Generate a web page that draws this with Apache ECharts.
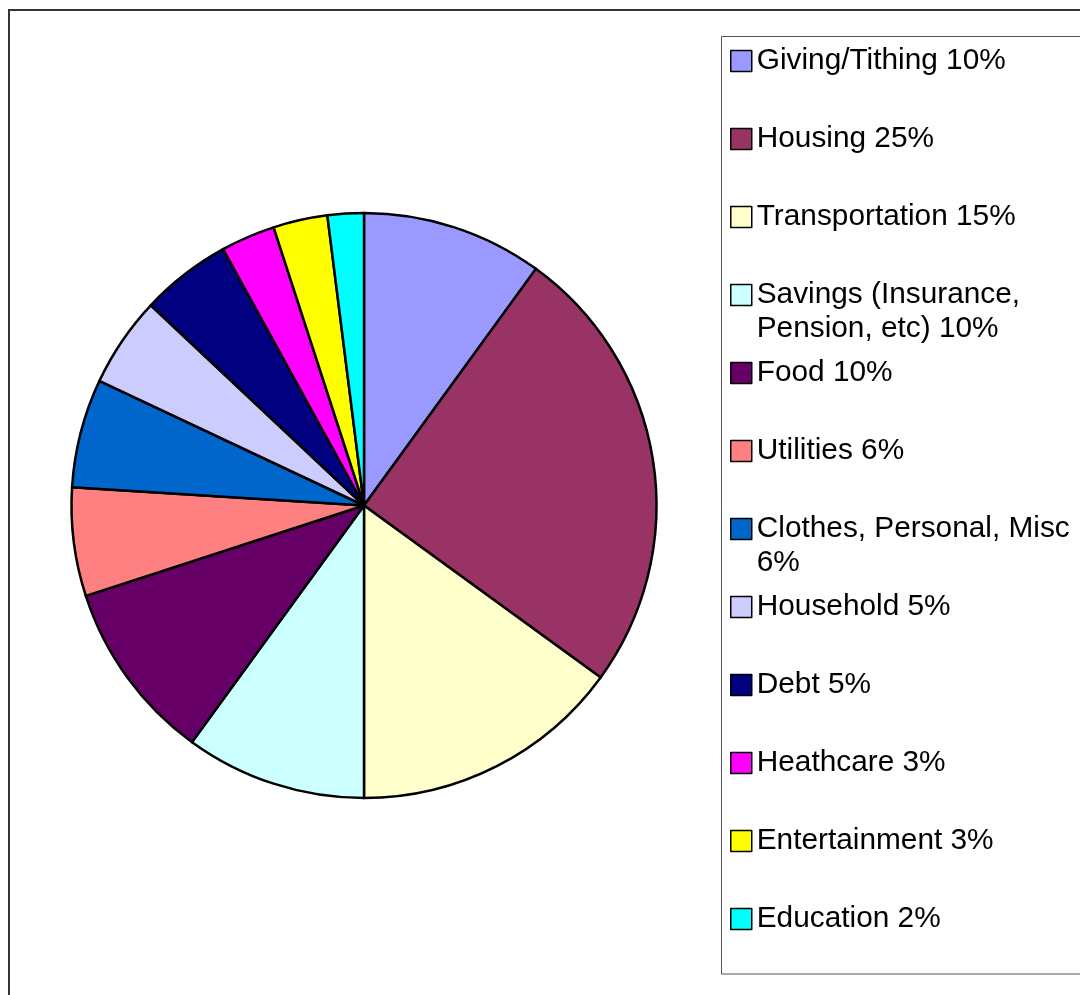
<!DOCTYPE html>
<html>
<head>
<meta charset="utf-8">
<script src="https://cdn.jsdelivr.net/npm/echarts@6/dist/echarts.min.js"></script>
<style>
html,body{margin:0;padding:0;background:#fff;}
#chart{width:1080px;height:995px;}
</style>
</head>
<body>
<div id="chart"></div>
<script>
const categories = ['Giving/Tithing', 'Housing', 'Transportation', 'Savings (Insurance, Pension, etc)', 'Food', 'Utilities', 'Clothes, Personal, Misc', 'Household', 'Debt', 'Heathcare', 'Entertainment', 'Education'];
const values = [10, 25, 15, 10, 10, 6, 6, 5, 5, 3, 3, 2];
const legendLabels = ['Giving/Tithing 10%', 'Housing 25%', 'Transportation 15%', 'Savings (Insurance,\nPension, etc) 10%', 'Food 10%', 'Utilities 6%', 'Clothes, Personal, Misc\n6%', 'Household 5%', 'Debt 5%', 'Heathcare 3%', 'Entertainment 3%', 'Education 2%'];
const colors = ['#9999FF', '#993366', '#FFFFCC', '#CCFFFF', '#660066', '#FF8080', '#0066CC', '#CCCCFF', '#000080', '#FF00FF', '#FFFF00', '#00FFFF'];

const FONT = "'Liberation Sans', Arial, sans-serif";
const FS = 29.8, LH = 34;

const legends = categories.map((name, i) => {
  const lines = legendLabels[i].split('\n').length;
  const iconY = 61 + 78 * i;
  // multi-line items: a blank leading line keeps the first text line level with the icon
  const text = lines > 1 ? ' \n' + legendLabels[i] : legendLabels[i];
  const totalLines = lines > 1 ? lines + 1 : 1;
  return {
    data: [name],
    orient: 'vertical',
    left: 730,
    top: iconY - (LH * totalLines) / 2,
    padding: 0,
    icon: 'rect',
    itemWidth: 21,
    itemHeight: 21,
    selectedMode: false,
    itemStyle: { borderColor: '#000', borderWidth: 1.5 },
    formatter: () => text,
    textStyle: {
      fontFamily: FONT,
      fontSize: FS,
      lineHeight: LH,
      color: '#000'
    }
  };
});

const chart = echarts.init(document.getElementById('chart'), null, { renderer: 'canvas' });
chart.setOption({
  animation: false,
  backgroundColor: '#fff',
  color: colors,
  graphic: [
    { type: 'rect', shape: { x: 9, y: 10, width: 1200, height: 1200 }, style: { fill: 'none', stroke: '#333', lineWidth: 2 }, silent: true },
    { type: 'rect', shape: { x: 721.5, y: 36.5, width: 500, height: 937.5 }, style: { fill: 'none', stroke: '#555', lineWidth: 1 }, silent: true }
  ],
  legend: legends,
  series: [{
    type: 'pie',
    center: [364, 505.5],
    radius: 292.5,
    startAngle: 90,
    clockwise: true,
    label: { show: false },
    labelLine: { show: false },
    emphasis: { disabled: true },
    itemStyle: { borderColor: '#000', borderWidth: 2.5 },
    data: categories.map((c, i) => ({ name: c, value: values[i] }))
  }]
});
</script>
</body>
</html>
